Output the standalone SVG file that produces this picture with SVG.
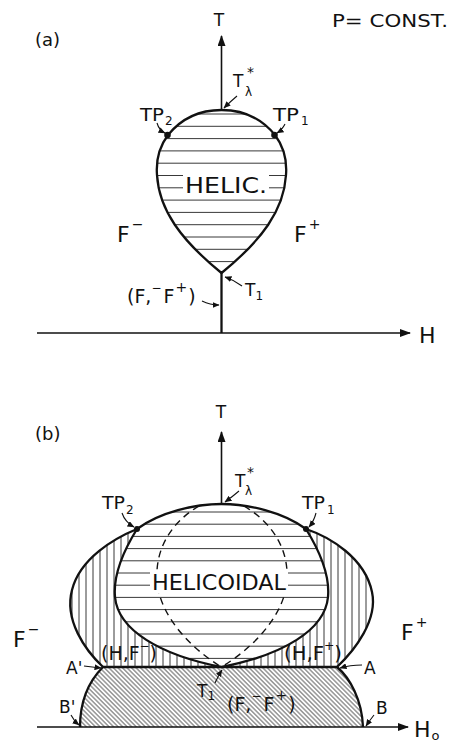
<svg xmlns="http://www.w3.org/2000/svg" width="450" height="742" viewBox="0 0 450 742">
<style>
  text { font-family: "DejaVu Sans", "Liberation Sans", sans-serif; fill: #111; }
  .ax { stroke: #111; stroke-width: 1.6; fill: none; }
  .bd { stroke: #111; stroke-width: 2.3; fill: none; stroke-linejoin: round; }
  .ht { stroke: #222; stroke-width: 0.9; fill: none; }
  .ld { stroke: #111; stroke-width: 1.1; fill: none; }
  .dash { stroke: #111; stroke-width: 1.4; fill: none; stroke-dasharray: 7 5; }
  .big { font-size: 22px; }
  .mid { font-size: 17px; }
  .lab { font-size: 19px; }
  .sub { font-size: 12px; }
  .sup { font-size: 14px; }
</style>
<defs>
  <marker id="axArrow" markerUnits="userSpaceOnUse" markerWidth="11" markerHeight="8" refX="10" refY="4" orient="auto">
    <path d="M0,0 L11,4 L0,8 Z" fill="#111"/>
  </marker>
  <marker id="smArrow" markerUnits="userSpaceOnUse" markerWidth="7" markerHeight="6" refX="6.5" refY="3" orient="auto">
    <path d="M0,0 L7,3 L0,6 Z" fill="#111"/>
  </marker>
  <clipPath id="clipLobeA">
    <path d="M221.5,110 C243,110 262,119 275,135 C284,147 287,162 286,175 C284,210 262,240 221.5,273 C181,240 159,210 157,175 C156,162 159,147 168,135 C181,119 200,110 221.5,110 Z"/>
  </clipPath>
  <clipPath id="clipOuterB">
    <path d="M137,529 C160,512 195,504 221.5,504 C248,504 283,512 306,529 C330,537 365,558 372,592 C378,620 355,650 337,667 L103,667 C85,650 64,620 72,590 C80,558 115,538 137,529 Z"/>
  </clipPath>
  <clipPath id="clipHelB">
    <path d="M137,529 C160,512 195,504 221.5,504 C248,504 283,512 306,529 C319,550 330,575 328,597 C325,630 283,655 221.5,667 C160,655 118,630 115,597 C113,575 124,550 137,529 Z"/>
  </clipPath>
  <pattern id="diag" patternUnits="userSpaceOnUse" width="6" height="3.2" patternTransform="rotate(45)">
    <line x1="0" y1="1.6" x2="6" y2="1.6" stroke="#222" stroke-width="0.8"/>
  </pattern>
</defs>

<!-- ================= Panel (a) ================= -->
<g id="panel-a-title">
  <text x="35" y="46" style="font-size:18px">(a)</text>
  <text x="332" y="27" style="font-size:18px" textLength="116" lengthAdjust="spacingAndGlyphs">P= CONST.</text>
</g>

<g id="a-helic">
  <g clip-path="url(#clipLobeA)">
    <path class="ht" d="M150 114H295M150 126.3H295M150 138.6H295M150 150.9H295M150 163.2H295M150 175.5H295M150 187.8H295M150 200.1H295M150 212.4H295M150 224.7H295M150 237H295M150 249.3H295M150 261.6H295"/>
  </g>
  <rect x="183" y="172" width="86" height="24" fill="#fff"/>
  <text x="185" y="193" class="big" textLength="82" lengthAdjust="spacingAndGlyphs">HELIC.</text>
  <path class="bd" d="M221.5,110 C243,110 262,119 275,135 C284,147 287,162 286,175 C284,210 262,240 221.5,273 C181,240 159,210 157,175 C156,162 159,147 168,135 C181,119 200,110 221.5,110 Z"/>
</g>

<g id="a-TP2">
  <circle cx="167.5" cy="135" r="3.3" fill="#111"/>
  <text x="140" y="121" class="mid"><tspan textLength="24" lengthAdjust="spacingAndGlyphs">TP</tspan><tspan class="sub" dx="1" dy="4">2</tspan></text>
</g>
<g id="a-TP1">
  <circle cx="274.5" cy="135" r="3.3" fill="#111"/>
  <text x="273" y="121" class="mid"><tspan textLength="26" lengthAdjust="spacingAndGlyphs">TP</tspan><tspan class="sub" dx="2" dy="4">1</tspan></text>
</g>
<g id="a-Tlambda">
  <text x="233" y="87" class="mid">T</text>
  <text x="245" y="96" class="sub">λ</text>
  <text x="247" y="77" class="sup">*</text>
</g>
<g id="a-T1">
  <text x="245" y="296" class="mid">T<tspan class="sub" dx="0" dy="4">1</tspan></text>
</g>
<g id="a-Fm">
  <text x="117" y="242" class="big">F<tspan class="sup" dx="2" dy="-13">−</tspan></text>
</g>
<g id="a-Fp">
  <text x="294" y="242" class="big">F<tspan class="sup" dx="2" dy="-13">+</tspan></text>
</g>
<g id="a-FF">
  <text x="127" y="303" class="lab">(F,<tspan class="sub" dy="-11">−</tspan><tspan dx="2" dy="11">F</tspan><tspan class="sup" dx="1" dy="-11">+</tspan><tspan dx="1" dy="11">)</tspan></text>
</g>
<g id="a-axes-labels">
  <text x="219" y="26" class="mid" text-anchor="middle">T</text>
  <text x="419" y="343" class="big">H</text>
</g>

<!-- ================= Panel (b) ================= -->
<g id="panel-b-title">
  <text x="35" y="440" style="font-size:18px">(b)</text>
</g>

<g id="b-FF-region">
  <path d="M103,667 L337,667 C350,678 362,700 363,727 L80,727 C80,700 90,680 103,667 Z" fill="url(#diag)"/>
  <path class="bd" d="M80,727 C80,700 90,680 103,667 L337,667 C350,678 362,700 363,727"/>
</g>

<g id="b-HF-regions">
  <g clip-path="url(#clipOuterB)">
    <path class="ht" d="M72 500V668M79 500V668M86 500V668M93 500V668M100 500V668M107 500V668M114 500V668M121 500V668M128 500V668M135 500V668M142 500V668M149 500V668M156 500V668M163 500V668M170 500V668M177 500V668M184 500V668M191 500V668M198 500V668M205 500V668M212 500V668M219 500V668M226 500V668M233 500V668M240 500V668M247 500V668M254 500V668M261 500V668M268 500V668M275 500V668M282 500V668M289 500V668M296 500V668M303 500V668M310 500V668M317 500V668M324 500V668M331 500V668M338 500V668M345 500V668M352 500V668M359 500V668M366 500V668"/>
  </g>
  <path class="bd" d="M137,529 C115,538 80,558 72,590 C64,620 85,650 103,667"/>
  <path class="bd" d="M306,529 C330,537 365,558 372,592 C378,620 355,650 337,667"/>
</g>

<g id="b-helicoidal">
  <path d="M137,529 C160,512 195,504 221.5,504 C248,504 283,512 306,529 C319,550 330,575 328,597 C325,630 283,655 221.5,667 C160,655 118,630 115,597 C113,575 124,550 137,529 Z" fill="#fff"/>
  <g clip-path="url(#clipHelB)">
    <path class="ht" d="M105 512H340M105 524.2H340M105 536.4H340M105 548.6H340M105 560.8H340M105 573H340M105 585.2H340M105 597.4H340M105 609.6H340M105 621.8H340M105 634H340M105 646.2H340M105 658.4H340"/>
  </g>
  <path class="dash" d="M199,506 C175,520 155,545 157,580 C159,615 190,648 221.5,667"/>
  <path class="dash" d="M244,506 C268,520 289,545 287,580 C285,615 253,648 221.5,667"/>
  <rect x="150" y="571" width="138" height="22" fill="#fff"/>
  <text x="152" y="590" style="font-size:21px" textLength="134" lengthAdjust="spacingAndGlyphs">HELICOIDAL</text>
  <path class="bd" d="M137,529 C160,512 195,504 221.5,504 C248,504 283,512 306,529 C319,550 330,575 328,597 C325,630 283,655 221.5,667 C160,655 118,630 115,597 C113,575 124,550 137,529 Z"/>
</g>

<g id="b-TP2">
  <circle cx="137" cy="529" r="3" fill="#111"/>
  <text x="102" y="509" class="mid"><tspan textLength="23" lengthAdjust="spacingAndGlyphs">TP</tspan><tspan class="sub" dx="1" dy="5">2</tspan></text>
</g>
<g id="b-TP1">
  <circle cx="306" cy="529" r="3" fill="#111"/>
  <text x="302" y="509" class="mid"><tspan textLength="23" lengthAdjust="spacingAndGlyphs">TP</tspan><tspan class="sub" dx="2" dy="5">1</tspan></text>
</g>
<g id="b-Tlambda">
  <text x="235" y="487" class="mid">T</text>
  <text x="245" y="495" class="sub">λ</text>
  <text x="247" y="477" class="sup">*</text>
</g>
<g id="b-Fm">
  <text x="13" y="647" class="big">F<tspan class="sup" dx="2" dy="-13">−</tspan></text>
</g>
<g id="b-Fp">
  <text x="401" y="640" class="big">F<tspan class="sup" dx="2" dy="-13">+</tspan></text>
</g>
<g id="b-HFm">
  <text x="101" y="660" class="lab" textLength="56" lengthAdjust="spacingAndGlyphs">(H,F<tspan class="sub" dy="-10">−</tspan><tspan dy="10">)</tspan></text>
</g>
<g id="b-HFp">
  <text x="284" y="660" class="lab" textLength="58" lengthAdjust="spacingAndGlyphs">(H,F<tspan class="sub" dy="-10">+</tspan><tspan dy="10">)</tspan></text>
</g>
<g id="b-A1"><text x="66" y="674" class="mid">A'</text></g>
<g id="b-A"><text x="364" y="674" class="mid">A</text></g>
<g id="b-B1"><text x="59" y="713" class="mid">B'</text></g>
<g id="b-B"><text x="376" y="714" class="mid">B</text></g>
<g id="b-T1">
  <text x="197" y="697" class="mid">T<tspan class="sub" dy="3">1</tspan></text>
</g>
<g id="b-FF">
  <text x="227" y="711" class="lab">(F,<tspan class="sub" dy="-11">−</tspan><tspan dx="2" dy="11">F</tspan><tspan class="sup" dx="1" dy="-11">+</tspan><tspan dx="1" dy="11">)</tspan></text>
</g>
<g id="b-axes-labels">
  <text x="221" y="418" class="mid" text-anchor="middle">T</text>
  <text x="414" y="737" class="big">H<tspan style="font-size:13px" dx="1" dy="3">o</tspan></text>
</g>

<!-- ================= Connectors ================= -->
<g id="connectors">
  <!-- panel (a) axes -->
  <line class="ax" x1="221.5" y1="110" x2="221.5" y2="36" marker-end="url(#axArrow)"/>
  <line class="ax" x1="37" y1="333" x2="410" y2="333" marker-end="url(#axArrow)"/>
  <line class="bd" x1="221.5" y1="273" x2="221.5" y2="333"/>
  <!-- panel (a) leaders -->
  <path class="ld" d="M237,96 Q231,101 224,108" marker-end="url(#smArrow)"/>
  <path class="ld" d="M157,123 Q159,130 165,133" marker-end="url(#smArrow)"/>
  <path class="ld" d="M285,124 Q282,130 277,133" marker-end="url(#smArrow)"/>
  <path class="ld" d="M242,286 Q234,280 225,277" marker-end="url(#smArrow)"/>
  <path class="ld" d="M202,301 Q210,305 219,305" marker-end="url(#smArrow)"/>
  <!-- panel (b) axes -->
  <line class="ax" x1="221.5" y1="504" x2="221.5" y2="432" marker-end="url(#axArrow)"/>
  <line class="ax" x1="37" y1="727" x2="408" y2="727" marker-end="url(#axArrow)"/>
  <!-- panel (b) leaders -->
  <path class="ld" d="M239,491 Q232,497 225,502" marker-end="url(#smArrow)"/>
  <path class="ld" d="M122,513 Q125,522 134,527" marker-end="url(#smArrow)"/>
  <path class="ld" d="M316,513 Q314,521 309,527" marker-end="url(#smArrow)"/>
  <path class="ld" d="M84,666 Q92,667 101,668" marker-end="url(#smArrow)"/>
  <path class="ld" d="M362,665 Q350,665 340,668" marker-end="url(#smArrow)"/>
  <path class="ld" d="M71,715 Q74,721 79,725" marker-end="url(#smArrow)"/>
  <path class="ld" d="M374,715 Q370,720 366,726" marker-end="url(#smArrow)"/>
  <path class="ld" d="M215,683 Q218,676 222,670" marker-end="url(#smArrow)"/>
</g>
</svg>
